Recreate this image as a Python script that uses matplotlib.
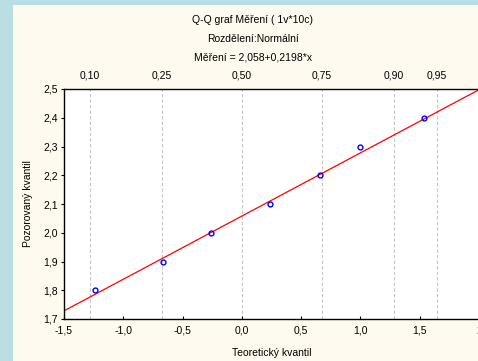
import numpy as np
import matplotlib.pyplot as plt
from matplotlib.patches import Rectangle
from matplotlib.ticker import FixedLocator, FuncFormatter

plt.rcParams['font.family'] = ['Liberation Sans', 'DejaVu Sans']

# data
teor = [-1.24, -0.665, -0.26, 0.235, 0.655, 1.0, 1.54]
pozor = [1.80, 1.90, 2.00, 2.10, 2.20, 2.30, 2.40]
intercept, slope = 2.058, 0.2198
prob_labels = ['0,10', '0,25', '0,50', '0,75', '0,90', '0,95']
prob_z = [-1.2816, -0.6745, 0.0, 0.6745, 1.2816, 1.6449]
xticks = [-1.5, -1.0, -0.5, 0.0, 0.5, 1.0, 1.5, 2.0]
yticks = [1.7, 1.8, 1.9, 2.0, 2.1, 2.2, 2.3, 2.4, 2.5]

W, H = 478, 361
fig = plt.figure(figsize=(W / 100, H / 100), dpi=100)
fig.patch.set_facecolor('#b9dee3')
fig.patches.append(Rectangle((13 / W, 0), 1, 1 - 5 / H, transform=fig.transFigure,
                             facecolor='#fefaef', edgecolor='none', zorder=-10))

x0, x1 = 64, 479
y0, y1 = 319, 89
ax = fig.add_axes([x0 / W, 1 - y0 / H, (x1 - x0) / W, (y0 - y1) / H])
ax.set_facecolor('white')
ax.set_xlim(-1.5, 2.0)
ax.set_ylim(1.7, 2.5)

for z in prob_z:
    ax.axvline(z, color='#c4c4c4', lw=0.8, ls=(0, (3, 2)), zorder=1)

xl = np.array([-1.5, 2.0])
ax.plot(xl, intercept + slope * xl, color='red', lw=0.9, zorder=2)
ax.plot(teor, pozor, 'o', ms=3.5, mfc='none', mec='blue', mew=1.0, zorder=3)

comma = FuncFormatter(lambda v, p: ('%.1f' % v).replace('.', ','))
ax.xaxis.set_major_locator(FixedLocator(xticks))
ax.yaxis.set_major_locator(FixedLocator(yticks))
ax.xaxis.set_major_formatter(FuncFormatter(lambda v, p: '2' if v == 2.0 else ('%.1f' % v).replace('.', ',')))
ax.yaxis.set_major_formatter(comma)
ax.tick_params(axis='both', labelsize=7.5, length=2.5, width=0.8, color='black')
ax.tick_params(axis='x', direction='in', pad=5)
ax.tick_params(axis='y', direction='out', right=True, pad=2)
for s in ax.spines.values():
    s.set_linewidth(1.0)

top = ax.secondary_xaxis('top')
top.set_xticks(prob_z)
top.set_xticklabels(prob_labels)
top.tick_params(labelsize=7.5, length=0, pad=6)
top.spines['top'].set_visible(False)

ax.set_xlabel('Teoretický kvantil', fontsize=7.5, labelpad=9)
ax.set_ylabel('Pozorovaný kvantil', fontsize=7.5, labelpad=7)

fig.text(253 / W, 1 - 20 / H, 'Q-Q graf Měření ( 1v*10c)', fontsize=7.5, ha='center', va='center')
fig.text(253 / W, 1 - 39 / H, 'Rozdělení:Normální', fontsize=7.5, ha='center', va='center')
fig.text(253 / W, 1 - 58 / H, 'Měření = 2,058+0,2198*x', fontsize=7.5, ha='center', va='center')

fig.savefig('out.png', dpi=100, facecolor=fig.get_facecolor())
